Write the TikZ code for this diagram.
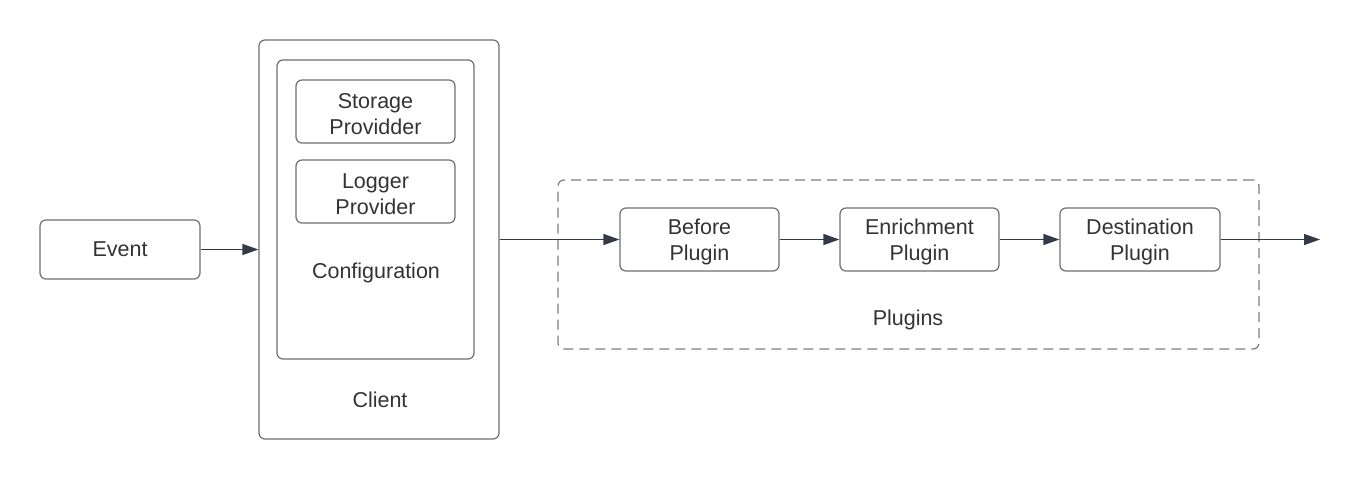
\documentclass[tikz,border=0pt]{standalone}
\usepackage{fontspec}
\setmainfont{Liberation Sans}
\usetikzlibrary{arrows.meta}
\definecolor{boxline}{HTML}{6B6E73}
\definecolor{arrline}{HTML}{333A45}
\definecolor{txt}{HTML}{333333}
\newcommand\mytopstrut{\rule{0pt}{20pt}}
\tikzset{
  box/.style={draw=boxline, line width=1.2pt, rounded corners=6pt, inner sep=0pt},
  lbl/.style={text=txt, font=\fontsize{21.5}{26}\selectfont, align=center},
  conn/.style={draw=arrline, line width=1.3pt, -{Triangle[length=16pt,width=11pt]}},
}
\begin{document}
\begin{tikzpicture}[x=1pt,y=-1pt]
\useasboundingbox (0,0) rectangle (1358,480);
% Client
\node[box, minimum width=240pt, minimum height=399pt] (client) at (379,239.5) {};
\node[lbl] (clientlbl) at (380,400) {Client};
% Configuration
\node[box, minimum width=197pt, minimum height=299pt] (config) at (375.5,209.5) {};
\node[lbl] (configlbl) at (376,273) {Configuration};
\node[box, lbl, minimum width=159pt, minimum height=63pt] (storage) at (375.5,111.5) {\mytopstrut Storage\\Providder};
\node[box, lbl, minimum width=159pt, minimum height=63pt] (logger) at (375.5,191.5) {\mytopstrut Logger\\Provider};
% Event
\node[box, lbl, minimum width=160pt, minimum height=59pt] (event) at (120,249.5) {Event};
% Plugins container
\node[box, dashed, dash pattern=on 10pt off 6pt, draw=boxline!90, minimum width=701pt, minimum height=169pt] (plugins) at (908.5,264.5) {};
\node[lbl] (pluginslbl) at (908,319.5) {Plugins};
\node[box, lbl, minimum width=159pt, minimum height=63pt] (before) at (699.5,239.5) {\mytopstrut Before\\Plugin};
\node[box, lbl, minimum width=159pt, minimum height=63pt] (enrich) at (919.5,239.5) {\mytopstrut Enrichment\\Plugin};
\node[box, lbl, minimum width=160pt, minimum height=63pt] (dest) at (1140,239.5) {\mytopstrut Destination\\Plugin};
\coordinate (out) at (1320,239.5);
% connectors
\draw[conn] (event.east) -- (event.east -| client.west);
\draw[conn] (client.east |- before.west) -- (before.west);
\draw[conn] (before.east) -- (enrich.west);
\draw[conn] (enrich.east) -- (dest.west);
\draw[conn] (dest.east) -- (out);
\end{tikzpicture}
\end{document}
